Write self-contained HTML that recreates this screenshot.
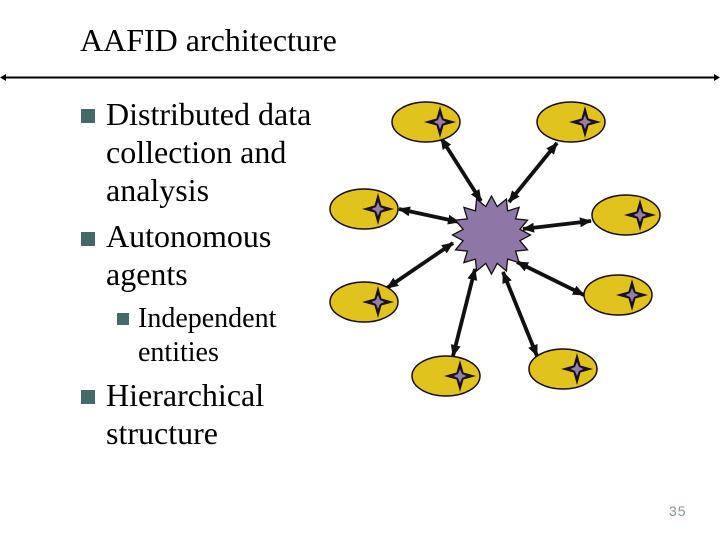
<!DOCTYPE html>
<html><head><meta charset="utf-8"><style>
html,body{margin:0;padding:0;background:#fff}
#p{position:relative;width:720px;height:540px;overflow:hidden;background:#fff}
.t{position:absolute;font-family:"Liberation Serif",serif;color:#000;white-space:nowrap}
.b{font-size:32px;line-height:38px}
.s{font-size:28px;line-height:34px}
.q{position:absolute;background:#436969}
svg{position:absolute;left:0;top:0}
</style></head><body><div id="p">
<svg width="720" height="540" viewBox="0 0 720 540">
<defs>
<marker id="a" markerUnits="userSpaceOnUse" markerWidth="14" markerHeight="12" refX="11" refY="5" orient="auto-start-reverse"><path d="M0 0L12 5L0 10Z" fill="#111"/></marker>
<g id="n"><ellipse cx="0" cy="0" rx="34" ry="20" fill="#e0c31c" stroke="#1a0c0c" stroke-width="1.500"/>
<path d="M14-16L17.500-3.500L30 0L17.500 3.500L14 16L10.500 3.500L-2 0L10.500-3.500Z" fill="#1a1020"/><path d="M14-7L16-2L20.500 0L16 2L14 7L12 2L7.500 0L12-2Z" fill="#9480aa"/></g>
</defs>
<line x1="2" y1="77.500" x2="718" y2="77.500" stroke="#000" stroke-width="2"/>
<path d="M0 77.500L6 74V81Z M720 77.500L714 74V81Z" fill="#000"/>
<g fill="none" stroke="#111" stroke-width="3.800">
<line x1="441" y1="138" x2="481" y2="201" marker-start="url(#a)" marker-end="url(#a)"/>
<line x1="557" y1="143" x2="509" y2="202" marker-start="url(#a)" marker-end="url(#a)"/>
<line x1="399" y1="209" x2="459" y2="222" marker-start="url(#a)" marker-end="url(#a)"/>
<line x1="387" y1="288" x2="453" y2="243" marker-start="url(#a)" marker-end="url(#a)"/>
<line x1="453" y1="356" x2="475" y2="269" marker-start="url(#a)" marker-end="url(#a)"/>
<line x1="537" y1="356" x2="503" y2="272" marker-start="url(#a)" marker-end="url(#a)"/>
<line x1="584" y1="295" x2="517" y2="262" marker-start="url(#a)" marker-end="url(#a)"/>
<line x1="591" y1="221" x2="523" y2="229" marker-start="url(#a)" marker-end="url(#a)"/>
</g>
<use href="#n" x="426" y="122"/>
<use href="#n" x="571" y="122"/>
<use href="#n" x="364" y="209"/>
<use href="#n" x="626" y="215"/>
<use href="#n" x="364" y="302"/>
<use href="#n" x="618" y="295"/>
<use href="#n" x="446" y="376"/>
<use href="#n" x="563" y="369"/>
<polygon fill="#8e76a6" stroke="#111" stroke-width="1.300" points="491.500,196 497.200,206.600 506.400,199 507.600,210.900 519.100,207.400 515.600,218.900 527.500,220.100 519.900,229.300 530.500,235 519.900,240.700 527.500,249.900 515.600,251.100 519.100,262.600 507.600,259.100 506.400,271 497.200,263.400 491.500,274 485.800,263.400 476.600,271 475.400,259.100 463.900,262.600 467.400,251.100 455.500,249.900 463.100,240.700 452.500,235 463.100,229.300 455.500,220.100 467.400,218.900 463.900,207.400 475.400,210.900 476.600,199 485.800,206.600"/>
</svg>
<div class="t" style="left:80px;top:22px;font-size:32px;line-height:36px">AAFID architecture</div>
<div class="q" style="left:81px;top:109px;width:14px;height:14px"></div>
<div class="t b" style="left:106px;top:95px">Distributed data<br>collection and<br>analysis</div>
<div class="q" style="left:81px;top:232px;width:14px;height:14px"></div>
<div class="t b" style="left:106px;top:217px">Autonomous<br>agents</div>
<div class="q" style="left:117px;top:313px;width:12px;height:12px"></div>
<div class="t s" style="left:138px;top:302px">Independent<br>entities</div>
<div class="q" style="left:81px;top:390px;width:14px;height:14px"></div>
<div class="t b" style="left:106px;top:376px">Hierarchical<br>structure</div>
<div class="t" style="left:669px;top:503px;font-family:'Liberation Sans',sans-serif;font-size:14px;line-height:16px;letter-spacing:1px;color:#7f98a3">35</div>
</div></body></html>
